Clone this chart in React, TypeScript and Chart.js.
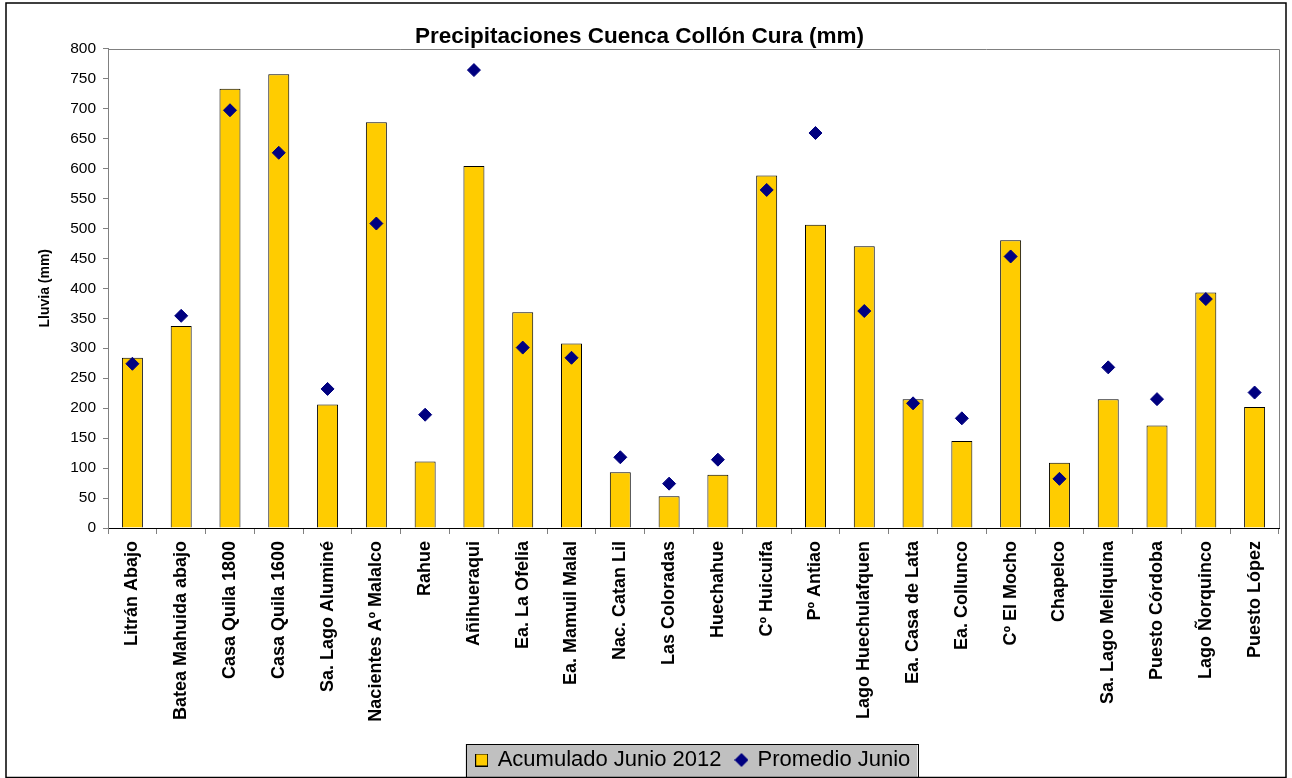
import React, { useEffect, useRef } from 'react';
import { Chart, registerables } from 'chart.js';

Chart.register(...registerables);

const categories: string[] = [
  'Litrán Abajo',
  'Batea Mahuida abajo',
  'Casa Quila 1800',
  'Casa Quila 1600',
  'Sa. Lago Aluminé',
  'Nacientes Aº Malalco',
  'Rahue',
  'Añihueraqui',
  'Ea. La Ofelia',
  'Ea. Mamuil Malal',
  'Nac. Catan Lil',
  'Las Coloradas',
  'Huechahue',
  'Cº Huicuifa',
  'Pº Antiao',
  'Lago Huechulafquen',
  'Ea. Casa de Lata',
  'Ea. Collunco',
  'Cº El Mocho',
  'Chapelco',
  'Sa. Lago Meliquina',
  'Puesto Córdoba',
  'Lago Ñorquinco',
  'Puesto López',
];

const acumuladoJunio2012: number[] = [
  284, 337, 733, 757, 206, 677, 111, 604, 360, 308, 93, 53,
  89, 588, 506, 470, 215, 145, 480, 109, 215, 171, 393, 202,
];

const promedioJunio: number[] = [
  274, 354, 697, 626, 232, 508, 189, 764, 301, 284, 118, 74,
  114, 564, 659, 362, 208, 183, 453, 82, 268, 215, 382, 226,
];

const seriesNames: string[] = ['Acumulado Junio 2012', 'Promedio Junio'];
const chartTitle = 'Precipitaciones Cuenca Collón Cura (mm)';
const yAxisTitle = 'Lluvia (mm)';
const yMin = 0;
const yMax = 800;
const yStep = 50;

const BAR_COLOR = '#FFCC00';
const POINT_COLOR = '#000080';

function makeIcon(size: number, draw: (ctx: CanvasRenderingContext2D, s: number) => void) {
  const c = document.createElement('canvas');
  c.width = size;
  c.height = size;
  const ctx = c.getContext('2d')!;
  draw(ctx, size);
  return c;
}

export default function App() {
  const ref = useRef<HTMLCanvasElement>(null);

  useEffect(() => {
    const canvas = ref.current;
    if (!canvas) return;
    Chart.defaults.font.family = "'Liberation Sans', Arial, sans-serif";

    const squareIcon = makeIcon(13, (ctx, s) => {
      ctx.fillStyle = BAR_COLOR;
      ctx.fillRect(0.5, 0.5, s - 1, s - 1);
      ctx.strokeStyle = '#000';
      ctx.lineWidth = 1;
      ctx.strokeRect(0.5, 0.5, s - 1, s - 1);
    });
    const diamondIcon = makeIcon(14, (ctx, s) => {
      ctx.fillStyle = POINT_COLOR;
      ctx.beginPath();
      ctx.moveTo(s / 2, 0);
      ctx.lineTo(s, s / 2);
      ctx.lineTo(s / 2, s);
      ctx.lineTo(0, s / 2);
      ctx.closePath();
      ctx.fill();
    });

    const framePlugin = {
      id: 'framePlugin',
      afterLayout(chart: any) {
        const lg = chart.legend;
        if (lg) {
          lg.left += 54;
          lg.right += 54;
        }
      },
      beforeDraw(chart: any) {
        const ctx = chart.ctx;
        ctx.save();
        ctx.fillStyle = '#fff';
        ctx.fillRect(0, 0, chart.width, chart.height);
        const hb = chart.legend?.legendHitBoxes;
        if (hb && hb.length) {
          const l = hb[0].left - 11;
          const last = hb[hb.length - 1];
          const r = last.left + last.width + 7;
          const cy = hb[0].top + hb[0].height / 2;
          ctx.fillStyle = '#C0C0C0';
          ctx.fillRect(l, cy - 16, r - l, 33);
          ctx.strokeStyle = '#000';
          ctx.lineWidth = 1;
          ctx.strokeRect(Math.round(l) + 0.5, Math.round(cy - 16) + 0.5, Math.round(r - l), 33);
        }
        ctx.restore();
      },
      beforeDatasetsDraw(chart: any) {
        const { ctx, chartArea } = chart;
        ctx.save();
        ctx.strokeStyle = '#808080';
        ctx.lineWidth = 1;
        ctx.beginPath();
        ctx.moveTo(chartArea.left, Math.round(chartArea.top) + 0.5);
        ctx.lineTo(chartArea.right + 0.5, Math.round(chartArea.top) + 0.5);
        ctx.lineTo(chartArea.right + 0.5, chartArea.bottom);
        ctx.stroke();
        ctx.restore();
      },
      afterDraw(chart: any) {
        const ctx = chart.ctx;
        ctx.save();
        ctx.strokeStyle = '#000';
        ctx.lineWidth = 1.5;
        ctx.strokeRect(6, 3, 1280, 774.5);
        ctx.restore();
      },
    };

    const chart = new Chart(canvas, {
      type: 'bar',
      data: {
        labels: categories,
        datasets: [
          {
            type: 'bar',
            label: seriesNames[0],
            data: acumuladoJunio2012,
            backgroundColor: BAR_COLOR,
            borderColor: '#000',
            borderWidth: 1,
            barPercentage: 0.43,
            categoryPercentage: 1,
            order: 1,
          } as any,
          {
            type: 'line',
            label: seriesNames[1],
            data: promedioJunio,
            showLine: false,
            pointStyle: 'rectRot',
            pointRadius: 6.5,
            pointHoverRadius: 6.5,
            backgroundColor: POINT_COLOR,
            borderColor: POINT_COLOR,
            pointBorderWidth: 1,
            order: 0,
          } as any,
        ],
      },
      options: {
        responsive: false,
        animation: false,
        devicePixelRatio: 1,
        layout: { padding: { left: 0, right: 13, top: 0, bottom: -3 } },
        plugins: {
          title: {
            display: true,
            text: chartTitle,
            color: '#000',
            font: { size: 22.5, weight: 'bold', lineHeight: 1 },
            padding: { top: 26, bottom: 0 },
          },
          legend: {
            position: 'bottom',
            labels: {
              usePointStyle: true,
              boxWidth: 10,
              boxHeight: 14,
              padding: 15,
              color: '#000',
              font: { size: 22 },
              generateLabels: () => [
                {
                  text: seriesNames[0],
                  fillStyle: BAR_COLOR,
                  strokeStyle: '#000',
                  lineWidth: 0,
                  pointStyle: squareIcon as any,
                  hidden: false,
                  datasetIndex: 0,
                  fontColor: '#000',
                },
                {
                  text: seriesNames[1],
                  fillStyle: POINT_COLOR,
                  strokeStyle: POINT_COLOR,
                  lineWidth: 0,
                  pointStyle: diamondIcon as any,
                  hidden: false,
                  datasetIndex: 1,
                  fontColor: '#000',
                },
              ],
            },
          },
          tooltip: { enabled: false },
        },
        scales: {
          x: {
            grid: { offset: true, drawOnChartArea: false, tickLength: 6, color: '#808080' },
            border: { color: '#000', width: 1 },
            ticks: {
              autoSkip: false,
              minRotation: 90,
              maxRotation: 90,
              padding: 7,
              color: '#000',
              font: { size: 18, weight: 'bold' },
            },
            afterFit: (s: any) => {
              s.height = 206;
            },
          },
          y: {
            min: yMin,
            max: yMax,
            ticks: { stepSize: yStep, padding: 7, color: '#000', font: { size: 15.5 } },
            grid: { drawOnChartArea: false, tickLength: 5, color: '#808080' },
            border: { color: '#808080', width: 1 },
            title: {
              display: true,
              text: yAxisTitle,
              color: '#000',
              font: { size: 14, weight: 'bold' },
              padding: { top: 37, bottom: 0 },
            },
            afterFit: (s: any) => {
              s.width = 108;
            },
          },
        },
      } as any,
      plugins: [framePlugin],
    });

    return () => chart.destroy();
  }, []);

  return (
    <div style={{ position: 'fixed', left: 0, top: 0, width: 1292, height: 778, background: '#fff' }}>
      <canvas ref={ref} width={1292} height={778} style={{ display: 'block' }} />
    </div>
  );
}
